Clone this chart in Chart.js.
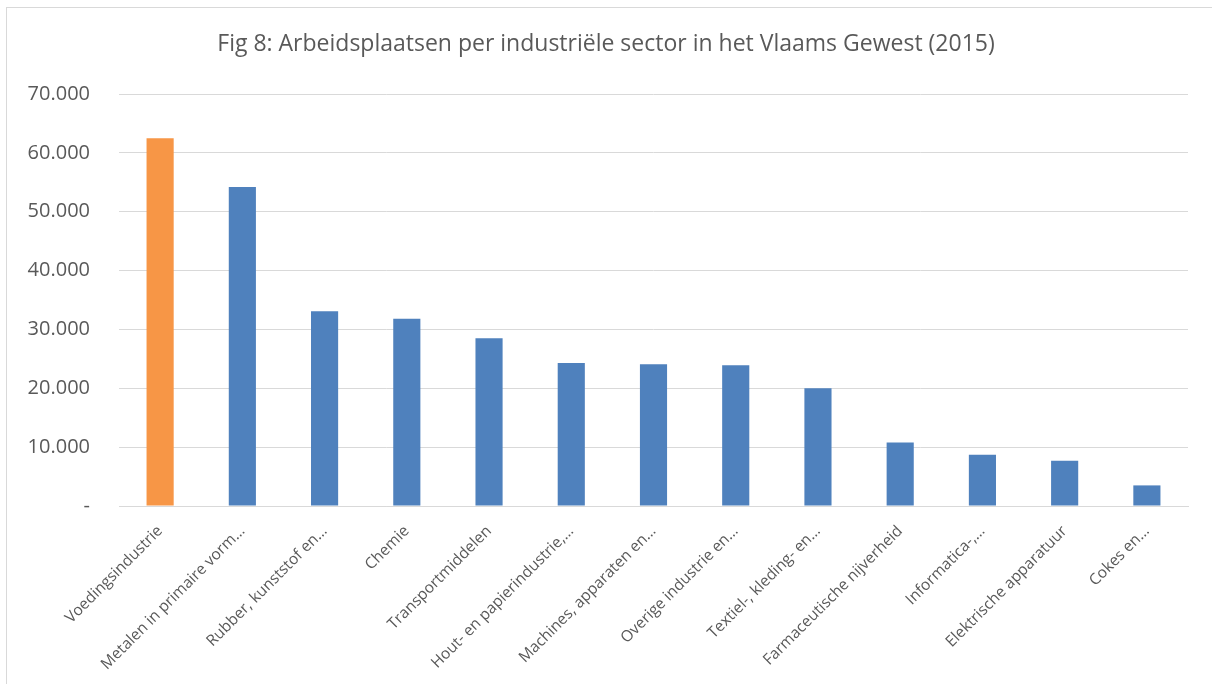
<!DOCTYPE html>
<html>
<head>
<meta charset="utf-8">
<title>Arbeidsplaatsen per industriële sector</title>
<script src="https://cdn.jsdelivr.net/npm/chart.js@4.4.1/dist/chart.umd.min.js"></script>
<style>
    html, body { margin: 0; padding: 0; background: #fff; overflow: hidden; }
    #wrap { position: relative; width: 1212px; height: 684px; }
    #frame { position: absolute; left: 6px; top: 7px; width: 1230px; height: 700px; border: 1px solid #d9d9d9; box-sizing: border-box; }
    canvas { position: absolute; left: 0; top: 0; }
</style>
</head>
<body>
<div id="wrap">
    <div id="frame"></div>
    <canvas id="sectorChart" width="1212" height="684"></canvas>
</div>
<script>
// Sectors as labelled on the axis (Excel truncates the long ones)
const sectors = [
    'Voedingsindustrie',
    'Metalen in primaire vorm…',
    'Rubber, kunststof en…',
    'Chemie',
    'Transportmiddelen',
    'Hout- en papierindustrie,…',
    'Machines, apparaten en…',
    'Overige industrie en…',
    'Textiel-, kleding- en…',
    'Farmaceutische nijverheid',
    'Informatica-,…',
    'Elektrische apparatuur',
    'Cokes en…'
];

// Jobs per sector
const jobs = [62500, 54200, 33100, 31800, 28500, 24300, 24100, 23900, 20000, 10800, 8700, 7700, 3500];

// Y axis ticks
const yTicks = [0, 10000, 20000, 30000, 40000, 50000, 60000, 70000];

const orange = '#F79646';
const blue = '#4F81BD';
const barColors = sectors.map((s, i) => i === 0 ? orange : blue);

function formatNl(v) {
    if (v === 0) return '-';
    return String(v).replace(/\B(?=(\d{3})+(?!\d))/g, '.');
}

document.addEventListener('DOMContentLoaded', function () {
    const ctx = document.getElementById('sectorChart').getContext('2d');

    new Chart(ctx, {
        type: 'bar',
        data: {
            labels: sectors,
            datasets: [{
                label: 'Arbeidsplaatsen',
                data: jobs,
                backgroundColor: barColors,
                borderWidth: 0,
                categoryPercentage: 1,
                barPercentage: 0.33
            }]
        },
        options: {
            responsive: false,
            animation: false,
            devicePixelRatio: 1,
            layout: {
                padding: 0
            },
            plugins: {
                legend: { display: false },
                tooltip: { enabled: false },
                title: {
                    display: true,
                    text: 'Fig 8: Arbeidsplaatsen per industriële sector in het Vlaams Gewest (2015)',
                    color: '#595959',
                    font: { family: 'Open Sans', size: 23, weight: 'normal', lineHeight: 1.2 },
                    padding: { top: 31, bottom: 35.4 }
                }
            },
            scales: {
                x: {
                    grid: { display: false },
                    border: { display: true, color: '#d9d9d9', width: 1 },
                    ticks: {
                        color: '#595959',
                        font: { family: 'Open Sans', size: 15.5 },
                        maxRotation: 45,
                        minRotation: 45,
                        autoSkip: false,
                        padding: 8
                    },
                    afterFit: function (scale) { scale.height = 178; }
                },
                y: {
                    min: 0,
                    max: 70000,
                    afterBuildTicks: function (scale) {
                        scale.ticks = yTicks.map(v => ({ value: v }));
                    },
                    grid: { color: '#d9d9d9', lineWidth: 1, drawTicks: false },
                    border: { display: false },
                    ticks: {
                        color: '#595959',
                        font: { family: 'Open Sans', size: 20 },
                        padding: 29,
                        callback: function (value) { return formatNl(value); }
                    },
                    afterFit: function (scale) { scale.width = 119; }
                },
                // empty spacer on the right so the title stays centred on the canvas
                spacer: {
                    type: 'linear',
                    position: 'right',
                    grid: { display: false },
                    border: { display: false },
                    ticks: { display: false },
                    afterFit: function (scale) { scale.width = 24; }
                }
            }
        }
    });
});
</script>
</body>
</html>
